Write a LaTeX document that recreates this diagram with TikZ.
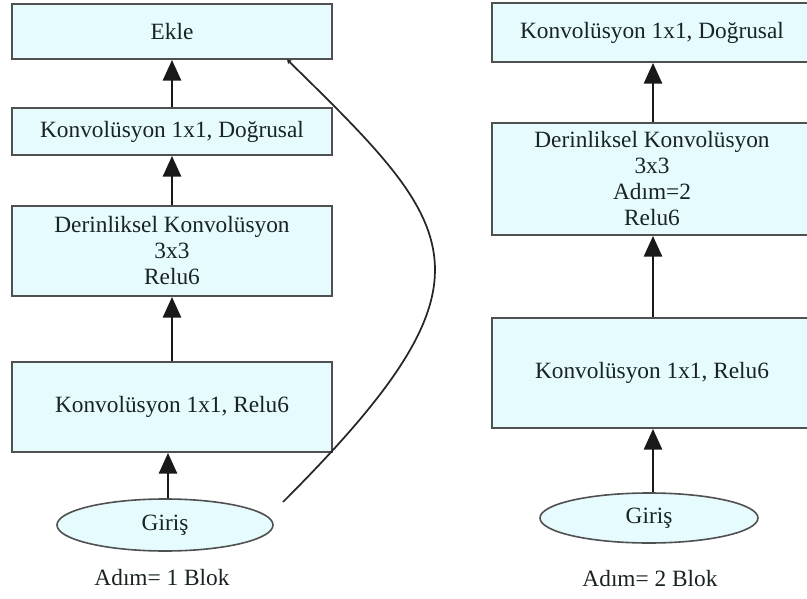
\documentclass[tikz,border=0pt]{standalone}
\usepackage{fontspec}
\setmainfont{Liberation Serif}
\usetikzlibrary{arrows.meta,shapes.geometric}
\definecolor{boxfill}{RGB}{230,251,253}
\definecolor{edge}{RGB}{80,80,80}
\definecolor{ink}{RGB}{25,35,35}
\tikzset{
  blk/.style={draw=edge, line width=1.4pt, fill=boxfill, rectangle, align=center,
    minimum width=240pt, inner sep=0pt, text=ink,
    font=\fontsize{17.5}{19.5}\selectfont},
  inp/.style={draw=edge, line width=1.2pt, fill=boxfill, ellipse, inner sep=0pt, text=ink,
    font=\fontsize{17.5}{19.5}\selectfont},
  blocklabel/.style={text=ink, font=\fontsize{17.5}{19.5}\selectfont},
  flow/.style={draw=black!90, line width=2pt, -{Triangle[width=13.5pt,length=15.5pt]}},
  skipline/.style={draw=black!85, line width=1.3pt, -{Triangle[width=3.5pt,length=3pt]}}
}
\begin{document}
\begin{tikzpicture}[x=0.75pt,y=-0.75pt]
\useasboundingbox (0,0) rectangle (807,599);
\clip (0,0) rectangle (807,599);
% left block
\node[blk, minimum height=41.25pt] (ekle) at (172,31.5) {Ekle};
\node[blk, minimum height=35.25pt] (lconv) at (172,131.5) {Konvolüsyon 1x1, Doğrusal};
\node[blk, minimum height=67.5pt] (ldw) at (172,251) {Derinliksel Konvolüsyon\\3x3\\Relu6};
\node[blk, minimum height=67.5pt] (lexp) at (172,407) {Konvolüsyon 1x1, Relu6};
\node[inp, minimum width=162pt, minimum height=39pt] (lin) at (165,525) {Giriş};
\node[blocklabel] (lcap) at (162,578) {Adım= 1 Blok};
% right block
\node[blk, minimum height=44.25pt] (rconv) at (652,32.5) {Konvolüsyon 1x1, Doğrusal};
\node[blk, minimum height=84pt] (rdw) at (652,179) {Derinliksel Konvolüsyon\\3x3\\Adım=2\\Relu6};
\node[blk, minimum height=82.5pt] (rexp) at (652,373) {Konvolüsyon 1x1, Relu6};
\node[inp, minimum width=163.5pt, minimum height=37.5pt] (rin) at (649,518) {Giriş};
\node[blocklabel] (rcap) at (650,579) {Adım= 2 Blok};
% left arrows
\draw[flow] (lin.north -| 168,0) -- (lexp.south -| 168,0);
\draw[flow] (lexp.north) -- (ldw.south);
\draw[flow] (ldw.north) -- (lconv.south);
\draw[flow] (lconv.north) -- (ekle.south);
% skip connection
\coordinate (skipstart) at (283,502);
\coordinate (skipend) at (287,59.5);
\draw[skipline] (skipstart) .. controls (508,277) and (460,229) .. (skipend);
% right arrows
\draw[flow] (rin.north -| 653,0) -- (rexp.south -| 653,0);
\draw[flow] (rexp.north -| 653,0) -- (rdw.south -| 653,0);
\draw[flow] (rdw.north -| 653,0) -- (rconv.south -| 653,0);
\end{tikzpicture}
\end{document}
